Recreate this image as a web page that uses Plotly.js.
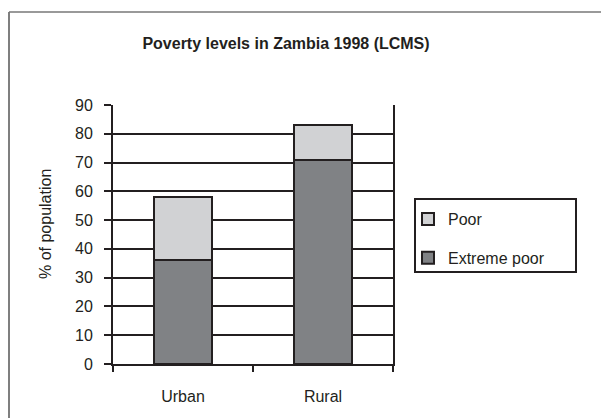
<!DOCTYPE html>
<html>
<head>
<meta charset="utf-8">
<script src="https://cdn.plot.ly/plotly-3.0.1.min.js"></script>
<style>html,body{margin:0;padding:0;background:#fff;}#chart{width:601px;height:418px;}</style>
</head>
<body>
<div id="chart"></div>
<script>
const categories = ["Urban", "Rural"];
const extremePoor = [36, 71];
const poor = [22, 12];
const yTicks = [0, 10, 20, 30, 40, 50, 60, 70, 80, 90];

const L = 113, R = 393, T = 105, B = 364, W = 601, H = 418;
const px = x => (x - L) / (R - L);
const py = y => (B - y) / (B - T);

const traces = [
  {type: "bar", name: "Extreme poor", x: categories, y: extremePoor, legendgroup: "b", legendrank: 2,
   marker: {color: "#808285", line: {color: "#231f20", width: 2}}},
  {type: "bar", name: "Poor", x: categories, y: poor, legendgroup: "a", legendrank: 1,
   marker: {color: "#d1d2d4", line: {color: "#231f20", width: 2}}}
];

const layout = {
  width: W, height: H,
  margin: {l: L, r: W - R, t: T, b: H - B, pad: 0},
  paper_bgcolor: "#fff", plot_bgcolor: "#fff",
  font: {family: "Liberation Sans, Arial, sans-serif", size: 16, color: "#231f20"},
  barmode: "stack", bargap: 0.59,
  showlegend: true,
  title: {text: "<b>Poverty levels in Zambia 1998 (LCMS)</b>", font: {size: 16},
          x: 286 / W, xref: "container", xanchor: "center", y: 1 - 43 / H, yanchor: "middle"},
  xaxis: {type: "category", range: [-0.5, 1.5], tickson: "boundaries", ticks: "outside",
          ticklen: 6, tickwidth: 2, tickcolor: "#231f20", showline: true, linewidth: 2,
          linecolor: "#231f20", showgrid: false, ticklabelstandoff: 17, fixedrange: true},
  yaxis: {range: [0, 90], tickvals: yTicks, ticktext: yTicks.map(String), ticks: "outside",
          ticklen: 7, tickwidth: 2, tickcolor: "#231f20", showline: true, mirror: true,
          linewidth: 2, linecolor: "#231f20", showgrid: true, gridcolor: "#231f20",
          gridwidth: 2, zeroline: false, ticklabelstandoff: 8, fixedrange: true},
  legend: {x: px(408), y: py(202), xanchor: "left", yanchor: "top", traceorder: "grouped",
           tracegroupgap: 15, borderwidth: 0, bgcolor: "rgba(0,0,0,0)", font: {size: 16}},
  annotations: [
    {text: "% of population", xref: "paper", yref: "paper", x: px(45), y: py(224),
     showarrow: false, textangle: -90, font: {size: 16}, xanchor: "center", yanchor: "middle"}
  ],
  shapes: [
    {type: "line", xref: "paper", yref: "paper", x0: px(9), x1: px(9), y0: py(12), y1: py(420),
     line: {color: "#555", width: 1.5}},
    {type: "line", xref: "paper", yref: "paper", x0: px(9), x1: px(602), y0: py(12), y1: py(12),
     line: {color: "#777", width: 1.5}},
    {type: "rect", xref: "paper", yref: "paper", x0: px(415), x1: px(576), y0: py(272), y1: py(199),
     line: {color: "#231f20", width: 2}, fillcolor: "rgba(0,0,0,0)"}
  ]
};

Plotly.newPlot("chart", traces, layout, {displayModeBar: false, staticPlot: true});
</script>
</body>
</html>
